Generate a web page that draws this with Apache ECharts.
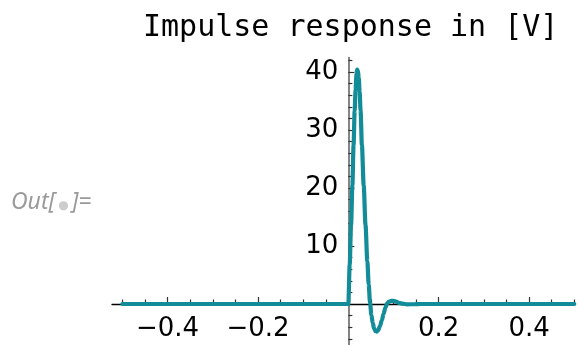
<!DOCTYPE html>
<html>
<head>
<meta charset="utf-8">
<script src="https://cdn.jsdelivr.net/npm/echarts@6/dist/echarts.min.js"></script>
<style>
  html, body { margin: 0; padding: 0; background: #fff; }
  #chart { width: 579px; height: 345px; }
</style>
</head>
<body>
<div id="chart"></div>
<script>
// Impulse response samples: time [s] and voltage [V]
const timeValues = [-0.5, 0, 0.003, 0.006, 0.009, 0.0115, 0.014, 0.016, 0.018, 0.0195,
  0.021, 0.023, 0.025, 0.027, 0.030, 0.034, 0.038, 0.042, 0.045, 0.048,
  0.051, 0.054, 0.057, 0.060, 0.063, 0.066, 0.070, 0.074, 0.078, 0.082,
  0.086, 0.090, 0.095, 0.100, 0.106, 0.112, 0.120, 0.130, 0.145, 0.160, 0.5];
const voltageValues = [0, 0, 6.8, 13.6, 20.5, 27.4, 33.3, 37.0, 39.6, 40.4,
  40.3, 39.0, 36.6, 33.4, 27.4, 20.4, 13.6, 7.4, 3.4, 0.2,
  -1.9, -3.3, -4.2, -4.65, -4.75, -4.5, -3.8, -2.8, -1.7, -0.6,
  0.1, 0.4, 0.55, 0.55, 0.4, 0.2, 0.05, -0.05, -0.04, 0, 0];

// Tick positions
const xMajorTicks = [-0.4, -0.2, 0.2, 0.4];
const xMinorTicks = [-0.5, -0.45, -0.35, -0.3, -0.25, -0.15, -0.1, -0.05,
  0.05, 0.1, 0.15, 0.25, 0.3, 0.35, 0.45, 0.5];
const yMajorTicks = [10, 20, 30, 40];
const yMinorTicks = [-6, -4, -2, 2, 4, 6, 8, 12, 14, 16, 18, 22, 24, 26, 28,
  32, 34, 36, 38, 42];

const seriesData = timeValues.map((t, i) => [t, voltageValues[i]]);

const X_MIN = -0.523, X_MAX = 0.5, Y_MIN = -7, Y_MAX = 42.5;
const W = 579, H = 345;
const GRID = { left: 112, right: 4.7, top: 57.5, bottom: 0.4 };
const gridW = W - GRID.left - GRID.right;
const gridH = H - GRID.top - GRID.bottom;
// distance from grid edges to the zero lines, so tick labels sit on the crossing axes
const xZeroFromLeft = (0 - X_MIN) / (X_MAX - X_MIN) * gridW;
const yZeroFromBottom = (0 - Y_MIN) / (Y_MAX - Y_MIN) * gridH;

const labelFont = { fontFamily: 'DejaVu Sans', fontSize: 26, color: '#000' };
const withMinus = v => String(v).replace('-', '\u2212');

const chart = echarts.init(document.getElementById('chart'), null, { renderer: 'canvas' });
chart.setOption({
  animation: false,
  backgroundColor: '#fff',
  title: [
    {
      text: 'Impulse response in [V]',
      left: 138, top: 8,
      textStyle: { fontFamily: 'DejaVu Sans Mono', fontSize: 30, fontWeight: 'normal', color: '#000' }
    },
    {
      text: '{a|Out[}{b|●}{a|]=}',
      left: 6, top: 186,
      textStyle: {
        rich: {
          a: { fontFamily: 'Noto Sans', fontStyle: 'italic', fontWeight: 'normal', fontSize: 23, color: '#9a9a9a' },
          b: { fontFamily: 'DejaVu Sans', fontSize: 12, color: '#cccccc', padding: [6, 3, 0, 3] }
        }
      }
    }
  ],
  grid: { ...GRID, containLabel: false, outerBoundsMode: 'none' },
  xAxis: [
    {
      type: 'value', min: X_MIN, max: X_MAX, position: 'bottom',
      axisLine: { show: true, onZero: true, lineStyle: { color: '#000', width: 1.3 } },
      axisTick: { show: true, inside: true, length: 7, customValues: xMajorTicks, lineStyle: { color: '#333', width: 1.2 } },
      axisLabel: { show: false },
      splitLine: { show: false }
    },
    {
      type: 'value', min: X_MIN, max: X_MAX, position: 'top',
      axisLine: { show: false, onZero: true },
      axisTick: { show: true, inside: false, length: 4.5, customValues: xMinorTicks, lineStyle: { color: '#333', width: 1.2 } },
      axisLabel: { show: false },
      splitLine: { show: false }
    },
    {
      type: 'value', min: X_MIN, max: X_MAX, position: 'bottom',
      offset: -yZeroFromBottom,
      axisLine: { show: false, onZero: false },
      axisTick: { show: false },
      axisLabel: { show: true, customValues: xMajorTicks, margin: 12, formatter: withMinus, ...labelFont },
      splitLine: { show: false }
    }
  ],
  yAxis: [
    {
      type: 'value', min: Y_MIN, max: Y_MAX, position: 'left',
      axisLine: { show: true, onZero: true, lineStyle: { color: '#666', width: 1.6 } },
      axisTick: { show: true, inside: true, length: 6, customValues: yMajorTicks, lineStyle: { color: '#333', width: 1.2 } },
      axisLabel: { show: false },
      splitLine: { show: false }
    },
    {
      type: 'value', min: Y_MIN, max: Y_MAX, position: 'right',
      axisLine: { show: false, onZero: true },
      axisTick: { show: true, inside: false, length: 4, customValues: yMinorTicks, lineStyle: { color: '#333', width: 1.2 } },
      axisLabel: { show: false },
      splitLine: { show: false }
    },
    {
      type: 'value', min: Y_MIN, max: Y_MAX, position: 'left',
      offset: -xZeroFromLeft,
      axisLine: { show: false, onZero: false },
      axisTick: { show: false },
      axisLabel: { show: true, customValues: yMajorTicks, margin: 10, padding: [4, 0, 0, 0], ...labelFont },
      splitLine: { show: false }
    }
  ],
  series: [
    {
      type: 'line',
      xAxisIndex: 0, yAxisIndex: 0,
      data: seriesData,
      showSymbol: false,
      smooth: 0.3,
      smoothMonotone: 'x',
      lineStyle: { color: '#128c98', width: 4.2, cap: 'round', join: 'round' },
      z: 3
    }
  ]
});
</script>
</body>
</html>
